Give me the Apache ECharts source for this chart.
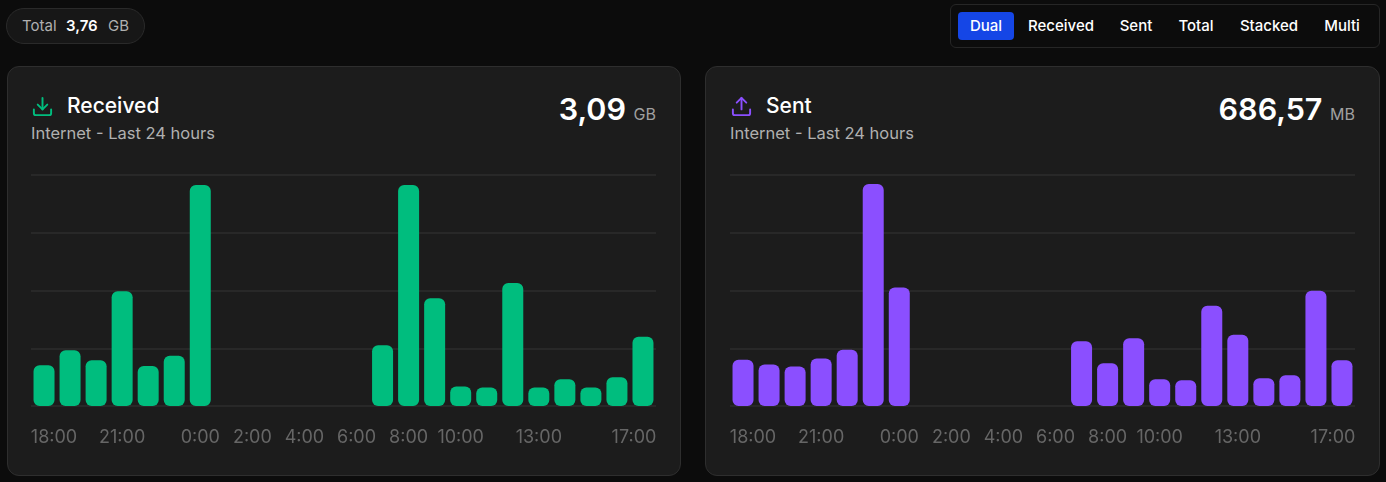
<!DOCTYPE html>
<html>
<head>
<meta charset="utf-8">
<style>
    * { box-sizing: border-box; margin: 0; padding: 0; }
    html, body { width: 1386px; height: 482px; overflow: hidden; background: #0c0c0c; font-family: Inter, sans-serif; color: #fff; }
    .pill { position: absolute; left: 6px; top: 8px; width: 139px; height: 36px; border: 1px solid #2a2a2a; border-radius: 18px; background: #171717; font-size: 15px; line-height: 34px; color: #b0b0b0; white-space: nowrap; }
    .pill span { position: absolute; top: 0; }
    .pill b { color: #fff; font-weight: 600; }
    .tabs { position: absolute; left: 950px; top: 4px; width: 430px; height: 44px; border: 1px solid #262626; border-radius: 6px; background: #0c0c0c; }
    .tab { position: absolute; top: 7px; height: 28px; line-height: 28px; font-size: 15px; font-weight: 500; color: #fff; text-align: center; border-radius: 4px; }
    .tab.active { background: #1546e6; }
    .card { position: absolute; top: 66px; height: 410px; border: 1px solid #2e2e2e; border-radius: 12px; background: #1c1c1c; }
    .chart { position: absolute; top: 66px; height: 410px; }
    .icon { position: absolute; top: 95px; width: 23px; height: 23px; }
    .title { position: absolute; top: 93px; font-size: 21px; line-height: 26px; font-weight: 500; color: #fff; }
    .sub { position: absolute; top: 124px; font-size: 16.5px; line-height: 18px; color: #b0b0b0; }
    .total { position: absolute; top: 90px; text-align: right; font-size: 30.5px; line-height: 38px; font-weight: 600; color: #fff; white-space: nowrap; }
    .total small { font-size: 16px; font-weight: 400; color: #a0a0a0; margin-left: 0; }
</style>
</head>
<body>
<div class="pill"><span style="left:15px">Total</span><span style="left:59px"><b>3,76</b></span><span style="left:101px">GB</span></div>
<div class="tabs" id="tabs"></div>

<div class="card" style="left:7px;width:674px"></div>
<div class="card" style="left:705px;width:675px"></div>

<svg class="icon" style="left:31px" viewBox="0 0 24 24" fill="none" stroke="#00bd7e" stroke-width="2" stroke-linecap="round" stroke-linejoin="round"><path d="M21 15v4a2 2 0 0 1-2 2H5a2 2 0 0 1-2-2v-4"/><polyline points="7 10 12 15 17 10"/><line x1="12" y1="15" x2="12" y2="3"/></svg>
<div class="title" style="left:67px">Received</div>
<div class="sub" style="left:31px">Internet - Last 24 hours</div>
<div class="total" style="right:730px">3,09 <small>GB</small></div>

<svg class="icon" style="left:730px" viewBox="0 0 24 24" fill="none" stroke="#8b4fff" stroke-width="2" stroke-linecap="round" stroke-linejoin="round"><path d="M21 15v4a2 2 0 0 1-2 2H5a2 2 0 0 1-2-2v-4"/><polyline points="17 8 12 3 7 8"/><line x1="12" y1="3" x2="12" y2="15"/></svg>
<div class="title" style="left:766px">Sent</div>
<div class="sub" style="left:730px">Internet - Last 24 hours</div>
<div class="total" style="right:31px">686,57 <small>MB</small></div>

<div class="chart" id="chart-received" style="left:7px;width:674px"></div>
<div class="chart" id="chart-sent" style="left:706px;width:674px"></div>

<script src="https://cdn.jsdelivr.net/npm/echarts@6/dist/echarts.min.js"></script>
<script>
// values in MB per hour
const hours = ['18:00', '19:00', '20:00', '21:00', '22:00', '23:00', '0:00', '1:00', '2:00', '3:00', '4:00', '5:00',
    '6:00', '7:00', '8:00', '9:00', '10:00', '11:00', '12:00', '13:00', '14:00', '15:00', '16:00', '17:00'];
const shownHours = ['18:00', '21:00', '0:00', '2:00', '4:00', '6:00', '8:00', '10:00', '13:00', '17:00'];
const received = [99, 135, 111, 278, 97, 122, 536, 0, 0, 0, 0, 0, 0, 147, 536, 261, 47, 45, 298, 45, 65, 45, 70, 168];
const sent = [26.9, 24.1, 22.9, 27.6, 32.7, 128.8, 68.7, 0, 0, 0, 0, 0, 0, 37.5, 24.8, 39.3, 15.5, 14.9, 58.2, 41.4, 16.1, 17.8, 66.9, 26.5];
const tabNames = ['Dual', 'Received', 'Sent', 'Total', 'Stacked', 'Multi'];
const tabBoxes = [[7, 56], [65, 90], [155, 60], [215, 60], [272, 92], [365, 52]];

const tabs = document.getElementById('tabs');
tabNames.forEach((name, i) => {
    const el = document.createElement('div');
    el.className = i === 0 ? 'tab active' : 'tab';
    el.textContent = name;
    el.style.left = tabBoxes[i][0] + 'px';
    el.style.width = tabBoxes[i][1] + 'px';
    tabs.appendChild(el);
});

const barChart = (id, values, color, max) => {
    const chart = echarts.init(document.getElementById(id));
    // first and last labels get pushed inside the plot area
    const cats = hours.map((h, i) => {
        if (i === 0) return {value: h, textStyle: {padding: [0, 0, 0, 20]}};
        if (i === hours.length - 1) return {value: h, textStyle: {padding: [0, 18, 0, 0]}};
        return h;
    });
    chart.setOption({
        animation: false,
        grid: {left: 24, right: 25, top: 109, bottom: 70},
        xAxis: {
            type: 'category',
            data: cats,
            axisLine: {show: false},
            axisTick: {show: false},
            axisLabel: {
                color: '#666',
                fontFamily: 'Inter',
                fontSize: 18,
                margin: 23,
                interval: (i, v) => shownHours.includes(v),
            },
        },
        yAxis: {
            type: 'value',
            min: 0,
            max,
            interval: max / 4,
            axisLabel: {show: false},
            axisLine: {show: false},
            axisTick: {show: false},
            splitLine: {lineStyle: {color: '#282828', width: 2}},
        },
        series: [{
            type: 'bar',
            data: values,
            barWidth: 21,
            itemStyle: {color, borderRadius: 6},
        }],
    });
    return chart;
};

barChart('chart-received', received, '#00bd7e', 560);
barChart('chart-sent', sent, '#8b4fff', 134);
</script>
</body>
</html>
